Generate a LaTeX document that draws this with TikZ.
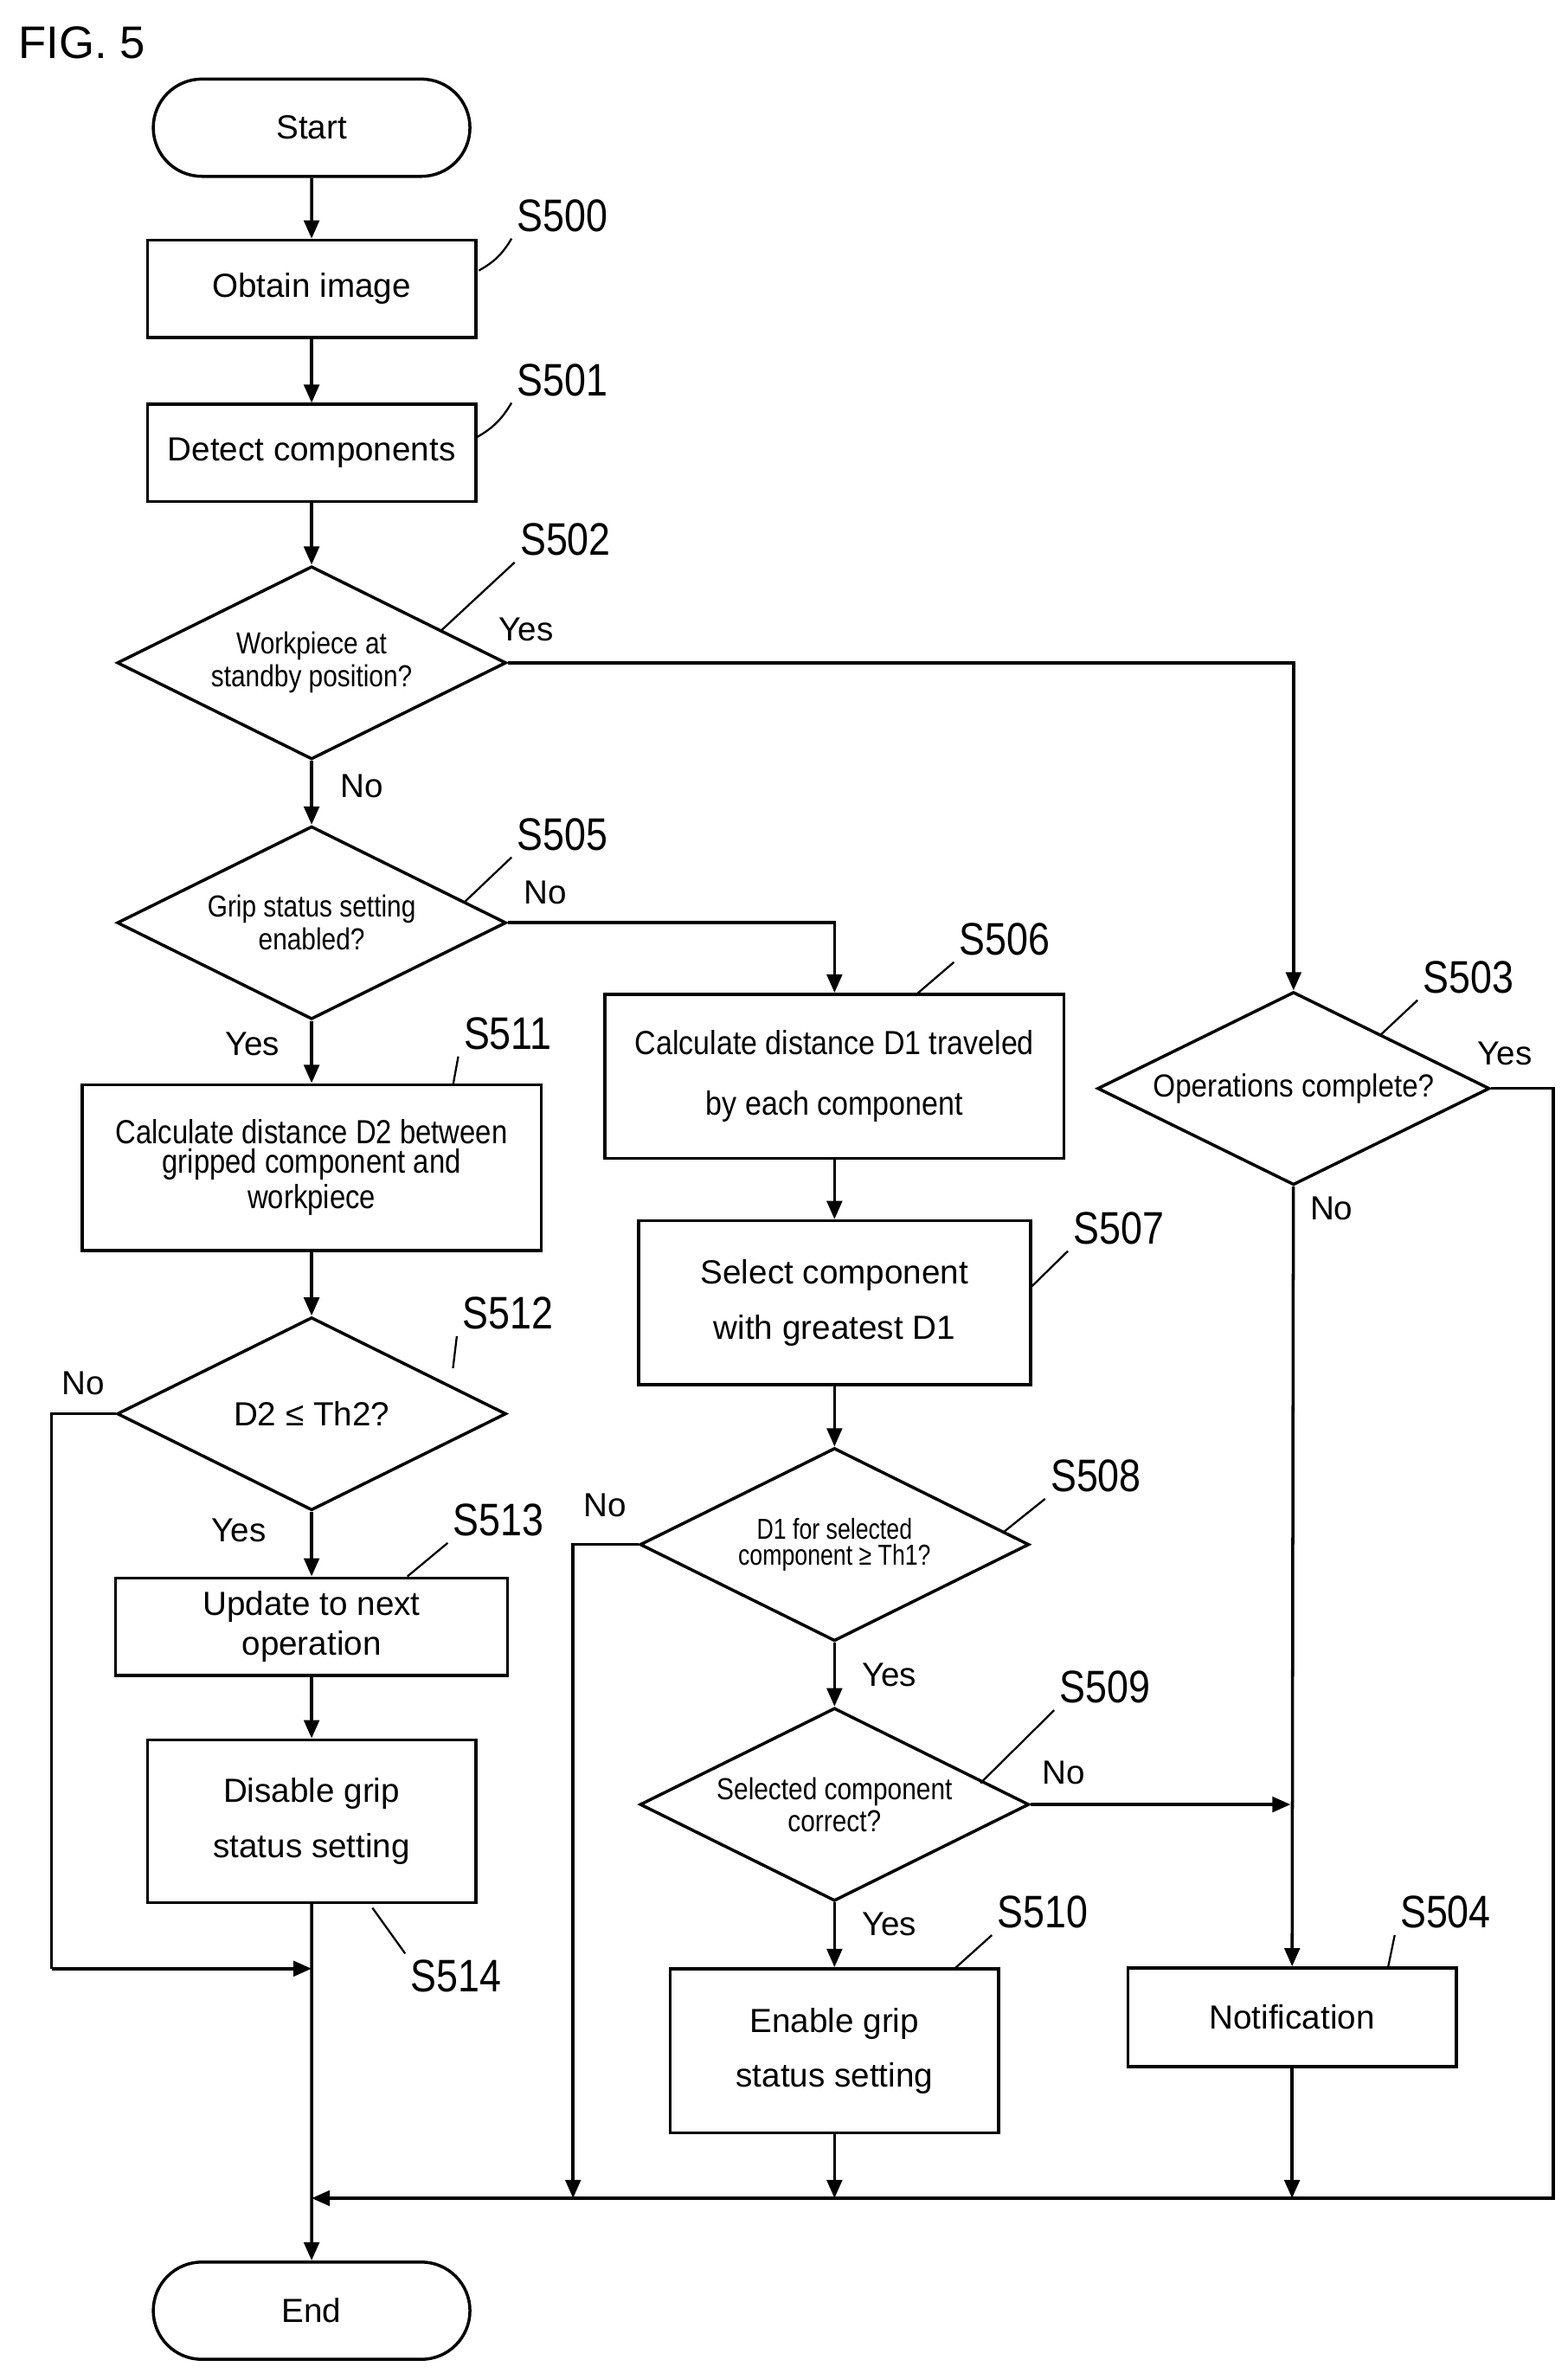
\documentclass[tikz,border=0pt]{standalone}
\usepackage{fontspec}
\setmainfont{Liberation Sans}
\usetikzlibrary{shapes.geometric,shapes.misc,arrows.meta}
\begin{document}
\begin{tikzpicture}[x=1pt,y=-1pt,line width=2pt,
  box/.style={draw,rectangle,align=center,font=\fontsize{22}{36}\selectfont,inner sep=0pt},
  term/.style={draw,rounded rectangle,minimum width=215pt,minimum height=64pt,font=\fontsize{22}{26}\selectfont},
  dia/.style={draw,diamond,aspect=2,minimum width=256pt,minimum height=127pt,inner sep=0pt,align=center,font=\fontsize{20}{26}\selectfont},
  lab/.style={font=\fontsize{30}{30}\selectfont,xscale=0.85},
  yn/.style={font=\fontsize{22}{24}\selectfont},
  ar/.style={-{Triangle[length=12pt,width=10pt]}},
  lead/.style={line width=1.3pt}]
\useasboundingbox (0,0) rectangle (1031,1561);
\node[font=\fontsize{30}{30}\selectfont,anchor=west] (fig) at (8,28) {FIG. 5};
\node[term] (start) at (205,84) {Start};
\node[box,minimum width=216pt,minimum height=64pt] (s500) at (205,190) {Obtain image};
\node[box,minimum width=216pt,minimum height=64pt] (s501) at (205,298) {Detect components};
\node[dia] (s502) at (205,436) {\scalebox{0.85}[1]{\shortstack{Workpiece at\\standby position?}}};
\node[dia] (s505) at (205,607) {\scalebox{0.85}[1]{\shortstack{Grip status setting\\enabled?}}};
\node[box,minimum width=302pt,minimum height=109pt,font=\fontsize{22}{26}\selectfont] (s511) at (205,768) {\scalebox{0.85}[1]{\shortstack{Calculate distance D2 between\\gripped component and\\workpiece}}};
\node[dia,font=\fontsize{22}{26}\selectfont] (s512) at (205,930) {D2 ≤ Th2?};
\node[box,minimum width=258pt,minimum height=64pt,font=\fontsize{22}{26}\selectfont] (s513) at (205,1070) {Update to next\\operation};
\node[box,minimum width=216pt,minimum height=107pt] (s514) at (205,1198) {Disable grip\\status setting};
\node[term] (end) at (205,1520) {End};
\node[box,minimum width=302pt,minimum height=108pt,font=\fontsize{22}{40}\selectfont] (s506) at (549,708) {\scalebox{0.88}[1]{Calculate distance D1 traveled}\\\scalebox{0.88}[1]{by each component}};
\node[box,minimum width=258pt,minimum height=108pt] (s507) at (549,857) {Select component\\with greatest D1};
\node[dia,font=\fontsize{19}{26}\selectfont] (s508) at (549,1016) {\scalebox{0.8}[1]{\shortstack{D1 for selected\\component ≥ Th1?}}};
\node[dia] (s509) at (549,1187) {\scalebox{0.85}[1]{\shortstack{Selected component\\correct?}}};
\node[box,minimum width=216pt,minimum height=108pt] (s510) at (549,1349) {Enable grip\\status setting};
\node[dia,minimum width=258pt,font=\fontsize{21}{26}\selectfont] (s503) at (851,716) {\scalebox{0.9}[1]{Operations complete?}};
\node[box,minimum width=216pt,minimum height=65pt] (s504) at (850,1327) {Notification};
\coordinate (m) at (205,1446);
\coordinate (r) at (1022,1446);
\draw[ar] (start) -- (s500);
\draw[ar] (s500) -- (s501);
\draw[ar] (s501) -- (s502);
\draw[ar] (s502) -- (s505);
\draw[ar] (s505) -- (s511);
\draw[ar] (s511) -- (s512);
\draw[ar] (s512) -- (s513);
\draw[ar] (s513) -- (s514);
\draw[ar] (s514) -- (end);
\draw[ar] (s506) -- (s507);
\draw[ar] (s507) -- (s508);
\draw[ar] (s508) -- (s509);
\draw[ar] (s509) -- (s510);
\draw[ar] (s503) -- (s504);
\draw[ar] (s502.east) -| (s503.north);
\draw[ar] (s505.east) -| (s506.north);
\draw[ar] (s503.east) -| (r) -- (m);
\draw[ar] (s508.west) -| (377,1446);
\draw[ar] (s509.east) -- (849,1187);
\draw[ar] (s510) -- (549,1446);
\draw[ar] (s504) -- (850,1446);
\draw (s512.west) -| (34,1295);
\draw[ar] (34,1295) -- (205,1295);
\node[lab] (l500) at (370,142) {S500}; \draw[lead] (315,178) to[bend right=15] (l500.south west);
\node[lab] (l501) at (370,250) {S501}; \draw[lead] (313,288) to[bend right=15] (l501.south west);
\node[lab] (l502) at (372,355) {S502}; \draw[lead] (290,415) -- (l502.south west);
\node[lab] (l505) at (370,549) {S505}; \draw[lead] (306,593) -- (l505.south west);
\node[lab] (l506) at (661,618) {S506}; \draw[lead] (603,654) -- (l506.south west);
\node[lab] (l511) at (334,680) {S511}; \draw[lead] (298,714) -- (l511.south west);
\node[lab] (l512) at (334,864) {S512}; \draw[lead] (298,900) -- (l512.south west);
\node[lab] (l513) at (328,1000) {S513}; \draw[lead] (268,1037) -- (l513.south west);
\node[lab] (l507) at (736,808) {S507}; \draw[lead] (679,846) -- (l507.south west);
\node[lab] (l508) at (721,971) {S508}; \draw[lead] (660,1008) -- (l508.south west);
\node[lab] (l509) at (727,1110) {S509}; \draw[lead] (645,1173) -- (l509.south west);
\node[lab] (l510) at (686,1258) {S510}; \draw[lead] (628,1295) -- (l510.south west);
\node[lab] (l503) at (966,643) {S503}; \draw[lead] (908,681) -- (l503.south west);
\node[lab] (l504) at (951,1258) {S504}; \draw[lead] (913,1295) -- (l504.south west);
\node[lab] (l514) at (300,1300) {S514}; \draw[lead] (245,1255) -- (l514.north west);
\node[yn] at (346,414) {Yes};
\node[yn] at (238,517) {No};
\node[yn] at (359,587) {No};
\node[yn] at (166,687) {Yes};
\node[yn] at (55,910) {No};
\node[yn] at (157,1007) {Yes};
\node[yn] at (398,990) {No};
\node[yn] at (585,1102) {Yes};
\node[yn] at (700,1166) {No};
\node[yn] at (585,1266) {Yes};
\node[yn] at (990,693) {Yes};
\node[yn] at (876,795) {No};
\end{tikzpicture}
\end{document}
